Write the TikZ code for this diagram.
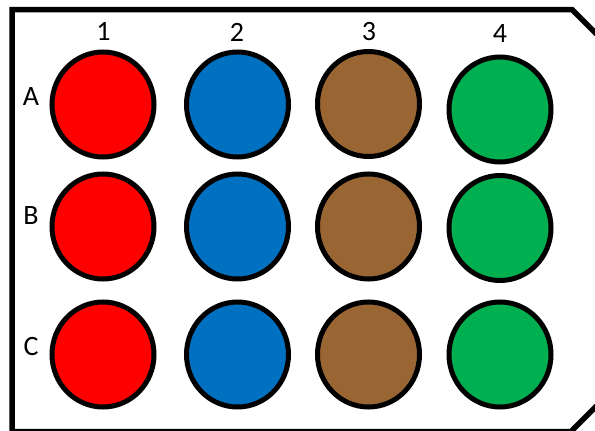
\documentclass[tikz,border=0pt]{standalone}
\usepackage{fontspec}
\setmainfont{Carlito}
\usetikzlibrary{shapes.geometric}
\definecolor{wellred}{HTML}{FF0000}
\definecolor{wellblue}{HTML}{0070C0}
\definecolor{wellbrown}{HTML}{996633}
\definecolor{wellgreen}{HTML}{00B050}
\begin{document}
\begin{tikzpicture}[x=1pt,y=-1pt,
  well/.style={ellipse,draw=black,line width=5pt,minimum width=102pt,minimum height=105pt,inner sep=0pt},
  lab/.style={font=\fontsize{28}{30}\selectfont,inner sep=0pt,text=black},
  plate/.style={draw=black,line width=5.5pt,line join=miter}]
\useasboundingbox (0,0) rectangle (595,431);
\clip (0,0) rectangle (595,431);
% plate outline
\coordinate (p1) at (12,9.5);
\coordinate (p2) at (572,9.5);
\coordinate (p3) at (605,42.5);
\coordinate (p4) at (605,397.5);
\coordinate (p5) at (571,431.5);
\coordinate (p6) at (12,431.5);
\draw[plate] (p1) -- (p2) -- (p3) -- (p4) -- (p5) -- (p6) -- cycle;
% wells
\node[well,fill=wellred]   (a1) at (103,104.5) {};
\node[well,fill=wellblue]  (a2) at (237.5,104.5) {};
\node[well,fill=wellbrown] (a3) at (368.5,104) {};
\node[well,fill=wellgreen] (a4) at (500,109.5) {};
\node[well,fill=wellred]   (b1) at (103,226.5) {};
\node[well,fill=wellblue]  (b2) at (237.5,226.5) {};
\node[well,fill=wellbrown] (b3) at (368.5,226.5) {};
\node[well,fill=wellgreen] (b4) at (500,228) {};
\node[well,fill=wellred]   (c1) at (103,354.5) {};
\node[well,fill=wellblue]  (c2) at (237.5,354.5) {};
\node[well,fill=wellbrown] (c3) at (368.5,354.5) {};
\node[well,fill=wellgreen] (c4) at (500,354.5) {};
% labels
\node[lab] (n1) at (103.5,31) {1};
\node[lab] (n2) at (237,32) {2};
\node[lab] (n3) at (369,32) {3};
\node[lab] (n4) at (500,34) {4};
\node[lab] (la) at (31,97) {A};
\node[lab] (lb) at (31,216) {B};
\node[lab] (lc) at (31,347) {C};
\end{tikzpicture}
\end{document}
